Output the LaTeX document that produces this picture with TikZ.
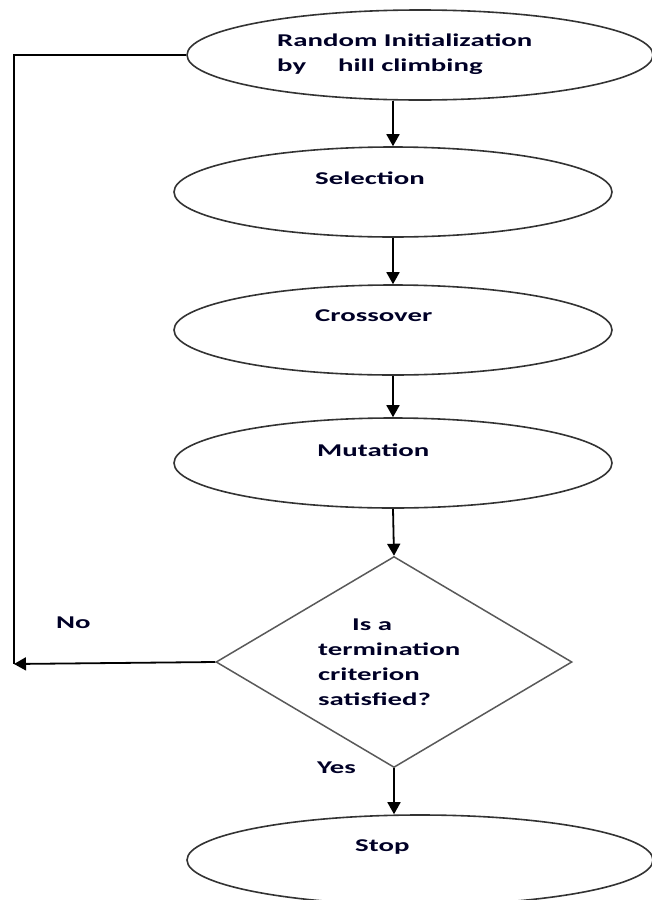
\documentclass[tikz,border=0pt]{standalone}
\usepackage{fontspec}
\newfontfamily\lbl[FakeStretch=1.6]{Carlito}
\usetikzlibrary{shapes.geometric,arrows.meta}
\begin{document}
\begin{tikzpicture}[x=1pt,y=-1pt,
  oval/.style={ellipse,draw=black!80,line width=1.6pt,inner sep=0pt},
  decision/.style={diamond,draw=black!65,line width=1.5pt,inner sep=0pt},
  txt/.style={inner sep=0pt,anchor=west,align=left,text=black!85!blue,
    font=\lbl\bfseries\fontsize{18}{25}\selectfont},
  conn/.style={line width=1.8pt,draw=black},
  arr/.style={conn,-{Triangle[length=12pt,width=13pt]}}]
\useasboundingbox (0,0) rectangle (651,900);
% shapes
\node[oval,minimum width=466pt,minimum height=90pt] (init) at (420,55) {};
\node[oval,minimum width=438pt,minimum height=90pt] (sel) at (393,192) {};
\node[oval,minimum width=438pt,minimum height=90pt] (cross) at (393,330) {};
\node[oval,minimum width=438pt,minimum height=90pt] (mut) at (393,463) {};
\node[decision,minimum width=356pt,minimum height=211pt] (dec) at (394,662) {};
\node[oval,minimum width=466pt,minimum height=90pt] (stop) at (420,860) {};
% texts
\node[txt] (tinit) at (277,54.5) {Random Initialization\\by\hspace{32pt}hill climbing};
\node[txt] (tsel) at (315,178) {Selection};
\node[txt] (tcross) at (315,316) {Crossover};
\node[txt] (tmut) at (317,450) {Mutation};
\node[txt] (tdec) at (318,662.5) {\hspace*{34pt}Is a\\termination\\criterion\\satisfied?};
\node[txt] (tstop) at (355,847) {Stop};
\node[txt] (tyes) at (317,768) {Yes};
\node[txt] (tno) at (56,623) {No};
% connectors
\coordinate (lc) at (14,664);
\draw[arr] (sel.north |- init.south) -- (sel.north);
\draw[arr] (sel.south) -- (cross.north);
\draw[arr] (cross.south) -- (mut.north);
\draw[arr] (mut.south) -- (dec.north);
\draw[arr] (dec.south) -- (dec.south |- stop.north);
\draw[arr] (dec.west) -- (lc);
\draw[conn] (init.west) -| (lc);
\end{tikzpicture}
\end{document}
